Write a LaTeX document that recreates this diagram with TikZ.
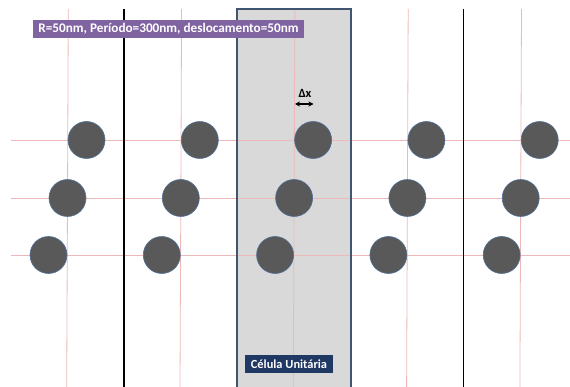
\documentclass[tikz,border=0pt]{standalone}
\usepackage{fontspec}
\setmainfont{Carlito}
\usetikzlibrary{arrows.meta}

\definecolor{gridpink}{HTML}{EDB8B8}
\definecolor{holegray}{HTML}{595959}
\definecolor{holeedge}{HTML}{4F6F9A}
\definecolor{cellgray}{HTML}{D9D9D9}
\definecolor{celledge}{HTML}{3F5570}
\definecolor{tagpurple}{HTML}{8064A2}
\definecolor{tagnavy}{HTML}{1F3864}

\begin{document}
\begin{tikzpicture}[x=1pt,y=-1pt,
    hole/.style={circle,fill=holegray,draw=holeedge,line width=0.6pt,minimum size=37pt,inner sep=0pt},
    guide/.style={gridpink,line width=0.8pt},
    wall/.style={black,line width=1.5pt},
    tag/.style={text=white,font=\bfseries,inner sep=0pt,minimum height=18pt}]
        \useasboundingbox (0,0) rectangle (570,387);

        % unit cell background
        \fill[cellgray] (237,9) rectangle (351,387);

        % guide lines
        \foreach \y in {140,198,255}
            \draw[guide] (11,\y) -- (570,\y);
        \foreach \k in {0,...,4}
            \draw[guide] ({68.3+113.3*\k},9) -- ({66.7+113.3*\k},387);

        % cell walls
        \draw[wall] (124,9) -- (124,387);
        \draw[wall] (463.5,9) -- (463.5,387);
        \draw[celledge,line width=1.2pt] (237,387) -- (237,9) -- (351,9) -- (351,387);

        % holes
        \foreach \k in {0,...,4} {
            \node[hole] (top\k) at ({86.5+113.3*\k},140) {};
            \node[hole] (mid\k) at ({67.5+113.3*\k},198) {};
            \node[hole] (low\k) at ({48.5+113.3*\k},255) {};
        }

        % labels
        \node[tag,fill=tagpurple,minimum width=271pt,font=\bfseries\fontsize{13.2}{15}\selectfont] (params) at (168.5,29) {R=50nm, Período=300nm, deslocamento=50nm};
        \node[tag,fill=tagnavy,minimum width=88pt,font=\bfseries\fontsize{12.4}{14}\selectfont] (cell) at (289,364) {Célula Unitária};

        \node[font=\bfseries\fontsize{12.5}{14}\selectfont,inner sep=0pt] (dx) at (305,93.5) {Δx};
        \coordinate (dxl) at (295,104);
        \coordinate (dxr) at (313.5,104);
        \draw[{Stealth[length=5pt,width=5pt]}-{Stealth[length=5pt,width=5pt]},line width=1.4pt] (dxl) -- (dxr);
\end{tikzpicture}
\end{document}
